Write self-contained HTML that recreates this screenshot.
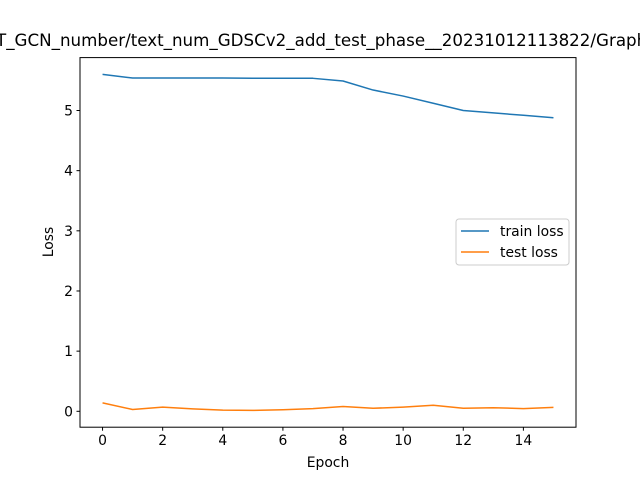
<!DOCTYPE html>
<html><head><meta charset="utf-8"><style>body{margin:0;background:#fff}svg{display:block}text{font-family:"DejaVu Sans","Liberation Sans",sans-serif}</style></head>
<body>
<svg id="chart" width="640" height="480">
<rect width="640" height="480" fill="#fff"/>
<text x="-4" y="46" font-size="16.7" text-anchor="start">T_GCN_number/text_num_GDSCv2_add_test_phase__20231012113822/Graph_loss</text>
<g id="plot"></g>
<rect x="80" y="57.6" width="496" height="369.6" fill="none" stroke="#000" stroke-width="1"/>
<text x="328" y="467" font-size="13.9" text-anchor="middle">Epoch</text>
<text transform="translate(53,242) rotate(-90)" font-size="13.9" text-anchor="middle">Loss</text>
<g>
<rect x="456" y="219" width="113" height="46" rx="3" fill="#fff" fill-opacity="0.8" stroke="#ccc"/>
<line x1="461" y1="231" x2="489" y2="231" stroke="#1f77b4" stroke-width="1.5"/>
<text x="500" y="236" font-size="13.9">train loss</text>
<line x1="461" y1="252" x2="489" y2="252" stroke="#ff7f0e" stroke-width="1.5"/>
<text x="500" y="257" font-size="13.9">test loss</text>
</g>
</svg>
<script>
const epochs=[0,1,2,3,4,5,6,7,8,9,10,11,12,13,14,15];
const trainLoss=[5.6,5.54,5.54,5.54,5.54,5.535,5.535,5.535,5.49,5.34,5.24,5.12,5.0,4.96,4.92,4.88];
const testLoss=[0.14,0.03,0.07,0.04,0.02,0.015,0.025,0.045,0.08,0.05,0.07,0.1,0.05,0.06,0.045,0.065];
const xTicks=[0,2,4,6,8,10,12,14];
const yTicks=[0,1,2,3,4,5];
const L=80,R=576,T=57.6,B=427.2;
const xmin=-0.75,xmax=15.75;
const all=trainLoss.concat(testLoss);
const dmin=Math.min(...all),dmax=Math.max(...all),pad=(dmax-dmin)*0.05;
const ymin=dmin-pad,ymax=dmax+pad;
const xs=v=>L+(v-xmin)/(xmax-xmin)*(R-L);
const ys=v=>B-(v-ymin)/(ymax-ymin)*(B-T);
const NS="http://www.w3.org/2000/svg";
const g=document.getElementById('plot');
function mk(t,a){const e=document.createElementNS(NS,t);for(const k in a)e.setAttribute(k,a[k]);g.appendChild(e);return e;}
xTicks.forEach(v=>{const x=xs(v);
const l=mk('line',{x1:x,x2:x,y1:B,y2:B+3.5,stroke:'#000'});


const t=mk('text',{x:x,y:B+18,'font-size':13.9,'text-anchor':'middle'});t.textContent=v;

});
yTicks.forEach(v=>{const y=ys(v);
const l=mk('line',{x1:L-3.5,x2:L,y1:y,y2:y,stroke:'#000'});


const t=mk('text',{x:L-7,y:y+5,'font-size':13.9,'text-anchor':'end'});t.textContent=v;

});
function line(data,color,name){const p=mk('polyline',{points:data.map((v,i)=>xs(epochs[i])+','+ys(v)).join(' '),fill:'none',stroke:color,'stroke-width':1.5,'stroke-linejoin':'round'});

}
line(trainLoss,'#1f77b4','train-loss-line');
line(testLoss,'#ff7f0e','test-loss-line');
</script>
</body></html>
